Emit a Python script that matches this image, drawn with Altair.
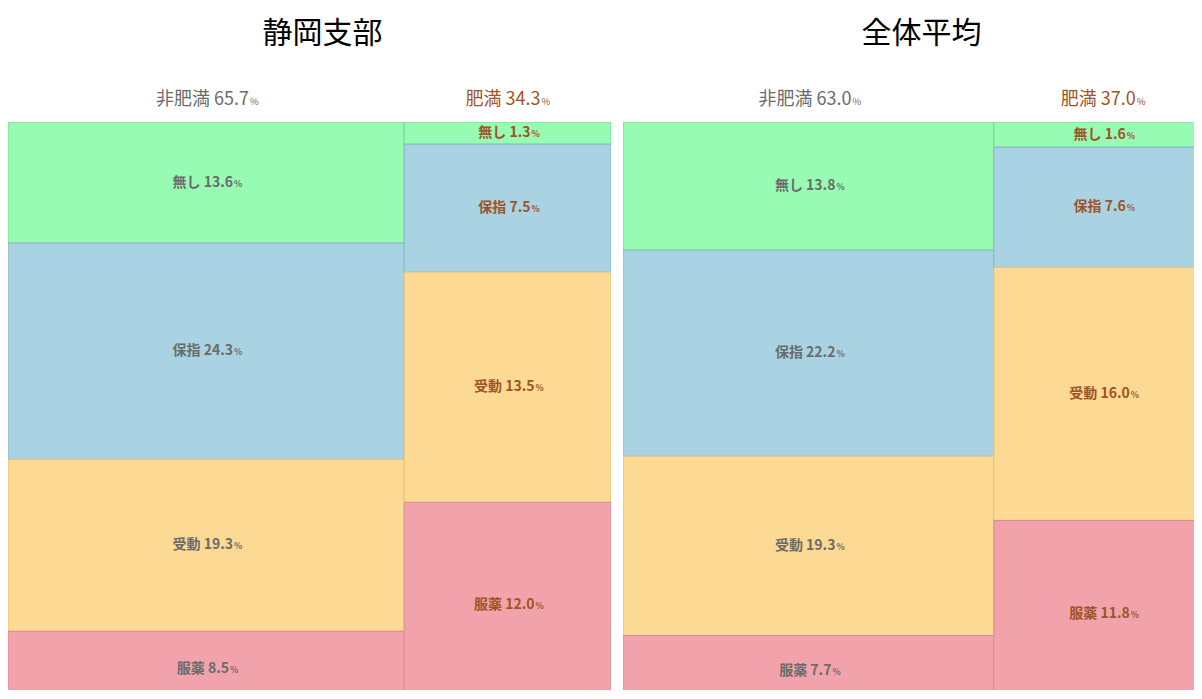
import altair as alt
import pandas as pd

panels = ["静岡支部", "全体平均"]
groups = ["非肥満", "肥満"]
cats = ["無し", "保指", "受動", "服薬"]
shizuoka_non = [13.6, 24.3, 19.3, 8.5]
shizuoka_obese = [1.3, 7.5, 13.5, 12.0]
overall_non = [13.8, 22.2, 19.3, 7.7]
overall_obese = [1.6, 7.6, 16.0, 11.8]

fills = ["#98FBB4", "#A9D3E3", "#FDDA94", "#F2A2AA"]
strokes = ["#72DA92", "#86B6CC", "#E6C27C", "#D88C96"]
text_colors = ["#6b6b6b", "#9E5428"]
head_colors = ["#808080", "#C0652E"]

FONT = "Noto Sans CJK JP"
H = 568
UNIT_H = 585.0


def build(non, obese):
    rows, heads = [], []
    x0 = 0.0
    for g, vals in zip(groups, [non, obese]):
        tot = round(sum(vals), 1)
        x1 = x0 + tot
        heads.append({"group": g, "xm": (x0 + x1) / 2, "label": f"{g} {tot:.1f}"})
        y0 = 0.0
        for c, v in zip(cats, vals):
            y1 = y0 + v / tot
            rows.append({"group": g, "cat": c, "v": v, "x0": x0, "x1": x1, "y0": y0, "y1": y1,
                         "xm": (x0 + x1) / 2, "ym": (y0 + y1) / 2,
                         "label": f"{c} {v:.1f}"})
            y0 = y1
        x0 = x1
    return pd.DataFrame(rows), pd.DataFrame(heads)


def panel(title, non, obese, width, xmax, dx_title):
    df, hd = build(non, obese)
    xs = alt.Scale(domain=[0, xmax], nice=False, zero=False)
    ys = alt.Scale(domain=[0, H / UNIT_H], nice=False, zero=False, reverse=True)
    tcol = alt.Color("group:N", scale=alt.Scale(domain=groups, range=text_colors), legend=None)
    hcol = alt.Color("group:N", scale=alt.Scale(domain=groups, range=head_colors), legend=None)
    base = alt.Chart(df)
    rect = base.mark_rect(strokeWidth=1, clip=True).encode(
        x=alt.X("x0:Q", scale=xs, axis=None), x2="x1:Q",
        y=alt.Y("y0:Q", scale=ys, axis=None), y2="y1:Q",
        fill=alt.Fill("cat:N", scale=alt.Scale(domain=cats, range=fills), legend=None),
        stroke=alt.Stroke("cat:N", scale=alt.Scale(domain=cats, range=strokes), legend=None),
    )
    layers = [rect]
    for cond, d in [("datum.v >= 10", 27), ("datum.v < 10", 23)]:
        sub = base.transform_filter(cond)
        layers.append(sub.mark_text(align="right", baseline="middle", dx=d, fontSize=14,
                                    font=FONT, fontWeight="bold").encode(
            x=alt.X("xm:Q", scale=xs), y=alt.Y("ym:Q", scale=ys), text="label:N", color=tcol))
        layers.append(sub.mark_text(align="left", baseline="middle", dx=d + 1, dy=1, fontSize=8.5,
                                    font=FONT, fontWeight="bold").encode(
            x=alt.X("xm:Q", scale=xs), y=alt.Y("ym:Q", scale=ys), text=alt.value("%"),
            color=tcol))
    hbase = alt.Chart(hd)
    for g, d in zip(groups, [43, 33]):
        hsub = hbase.transform_filter(alt.datum.group == g)
        layers.append(hsub.mark_text(align="right", baseline="middle", dx=d, fontSize=18,
                                     font=FONT).encode(
            x=alt.X("xm:Q", scale=xs), y=alt.value(-22), text="label:N", color=hcol))
        layers.append(hsub.mark_text(align="left", baseline="middle", dx=d + 1, dy=2,
                                     fontSize=9.5, font=FONT).encode(
            x=alt.X("xm:Q", scale=xs), y=alt.value(-22), text=alt.value("%"), color=hcol))
    return alt.layer(*layers).properties(
        width=width, height=H,
        title=alt.TitleParams(title, fontSize=30, font=FONT, fontWeight="normal",
                              color="#000000", anchor="middle", dx=dx_title, offset=42),
    )


left = panel(panels[0], shizuoka_non, shizuoka_obese, 603, 100, 13)
right = panel(panels[1], overall_non, overall_obese, 571, 97, 13)

chart = alt.hconcat(left, right, spacing=12).properties(
    padding={"left": 0, "top": 11, "right": 0, "bottom": 0}
).configure_view(strokeWidth=0)

chart.save("out.html", embed_options={"renderer": "svg", "actions": False})
